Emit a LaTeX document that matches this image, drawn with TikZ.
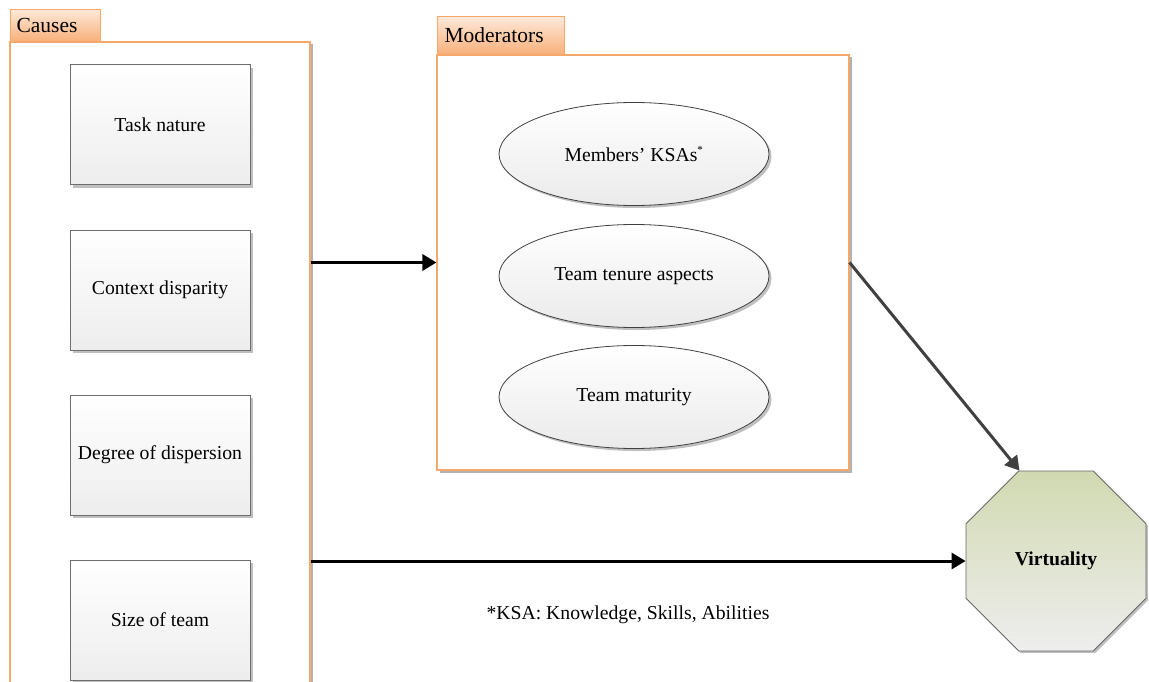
\documentclass[tikz,border=0pt]{standalone}
\usepackage{fontspec}
\setmainfont{Liberation Serif}
\usetikzlibrary{shapes.geometric,shadows,arrows.meta}
\definecolor{frameorange}{HTML}{F6A86A}
\definecolor{tabtop}{HTML}{FDE9D9}
\definecolor{tabbot}{HTML}{F8B07A}
\definecolor{boxline}{HTML}{6E6E6E}
\definecolor{octtop}{HTML}{D1D9B1}
\definecolor{octbot}{HTML}{EEEEEE}
\begin{document}
\begin{tikzpicture}[x=1pt,y=-1pt,
  lbl/.style={font=\fontsize{19.7}{22}\selectfont},
  frame/.style={draw=frameorange, line width=1.1pt, fill=white, inner sep=0,
    drop shadow={shadow xshift=2.5pt, shadow yshift=-2.5pt, fill=black!30, opacity=1}},
  tab/.style={draw=frameorange, line width=1.1pt, top color=tabtop, bottom color=tabbot,
    inner sep=0, anchor=south west, font=\fontsize{21.5}{24}\selectfont, align=left,
    text depth=0pt},
  causebox/.style={lbl, draw=boxline, line width=1pt, top color=white, bottom color=black!7,
    minimum width=180pt, minimum height=120pt, inner sep=2pt,
    drop shadow={shadow xshift=3pt, shadow yshift=-3pt, fill=black!25, opacity=1}},
  modell/.style={lbl, ellipse, draw=black!75, line width=0.8pt, top color=white, bottom color=black!8,
    minimum width=270pt, minimum height=103pt, inner sep=0,
    drop shadow={shadow xshift=2.5pt, shadow yshift=-2.5pt, fill=black!25, opacity=1}},
  link/.style={line width=3pt, -{Triangle[length=14pt,width=16pt]}}
]
\useasboundingbox (0,0) rectangle (1149,682);

% Causes group: open-ended frame with its tab
\node[frame, minimum width=300pt, minimum height=660pt] (causes) at (160,372) {};
\node[tab, minimum width=90pt, minimum height=32pt, text width=80pt] (causestab) at (10,42) {\hspace*{1pt}Causes};

% Moderators group
\node[frame, minimum width=412pt, minimum height=415pt] (mods) at (643,262.5) {};
\node[tab, minimum width=127pt, minimum height=38pt, text width=117pt] (modstab) at (437,55) {\hspace*{2pt}Moderators};

% Causes
\node[causebox] (task) at (160,125) {Task nature};
\node[causebox] (context) at (160,290) {Context disparity};
\node[causebox] (disp) at (160,455) {Degree of dispersion};
\node[causebox] (size) at (160,620) {Size of team};

% Moderators
\node[modell] (ksa) at (634,154) {Members’ KSAs\textsuperscript{\fontsize{11}{11}\selectfont *}};
\node[modell] (tenure) at (634,276) {Team tenure aspects};
\node[modell] (maturity) at (634,397) {Team maturity};

% Outcome
\node[regular polygon, regular polygon sides=8, minimum size=194.8pt, inner sep=0,
  draw=black!60, line width=0.8pt, top color=octtop, bottom color=octbot,
  font=\fontsize{19.7}{22}\selectfont\bfseries,
  drop shadow={shadow xshift=2pt, shadow yshift=-2pt, fill=black!25, opacity=1}]
  (virt) at (1056,561) {Virtuality};

% Footnote
\node[lbl] (note) at (628,615) {*KSA: Knowledge, Skills, Abilities};

% Relations
\draw[link] (causes.east |- mods.west) -- (mods.west);
\draw[link, draw=black!75, fill=black!75] (mods.east) -- (virt.112.5);
\draw[link] (causes.east |- virt.west) -- (virt.west);
\end{tikzpicture}
\end{document}
